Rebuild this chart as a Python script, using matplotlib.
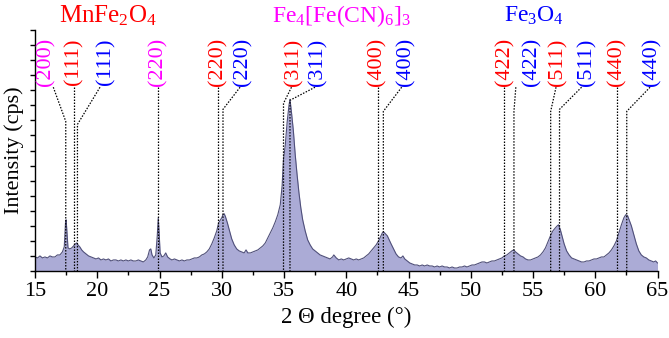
import numpy as np
import matplotlib.pyplot as plt
from matplotlib.transforms import blended_transform_factory

plt.rcParams["font.family"] = ["Liberation Serif", "DejaVu Serif"]
plt.rcParams["mathtext.fontset"] = "custom"
plt.rcParams["mathtext.rm"] = "Liberation Serif"
plt.rcParams["mathtext.it"] = "Liberation Serif:italic"

# XRD pattern (intensity in arbitrary units)
two_theta = [
    15.0, 15.2, 15.4, 15.6, 15.8, 16.0, 16.2, 16.4, 16.6, 16.8, 17.0, 17.2,
    17.35, 17.45, 17.5, 17.56, 17.65, 17.8, 17.95, 18.1, 18.25, 18.35, 18.45,
    18.6, 18.75, 18.9, 19.1, 19.3, 19.5, 19.7, 19.9, 20.1, 20.3, 20.5, 20.7,
    20.9, 21.1, 21.3, 21.5, 21.7, 21.9, 22.1, 22.3, 22.5, 22.7, 22.9, 23.1,
    23.3, 23.5, 23.7, 23.9, 24.05, 24.2, 24.3, 24.4, 24.55, 24.7, 24.82, 24.9,
    24.97, 25.05, 25.2, 25.35, 25.5, 25.65, 25.85, 26.0, 26.2, 26.4, 26.6,
    26.8, 27.0, 27.2, 27.4, 27.6, 27.8, 28.0, 28.2, 28.4, 28.6, 28.8, 29.0,
    29.2, 29.4, 29.6, 29.75, 29.9, 30.0, 30.1, 30.2, 30.3, 30.45, 30.6, 30.8,
    31.0, 31.2, 31.4, 31.6, 31.8, 31.95, 32.1, 32.3, 32.5, 32.7, 32.9, 33.1,
    33.3, 33.5, 33.7, 33.9, 34.1, 34.3, 34.5, 34.7, 34.85, 34.95, 35.1, 35.25,
    35.4, 35.48, 35.6, 35.75, 35.9, 36.05, 36.2, 36.35, 36.5, 36.7, 36.9,
    37.1, 37.3, 37.5, 37.7, 37.9, 38.1, 38.3, 38.5, 38.7, 38.9, 39.0, 39.2,
    39.4, 39.6, 39.8, 40.0, 40.2, 40.4, 40.6, 40.8, 41.0, 41.2, 41.4, 41.6,
    41.8, 42.0, 42.2, 42.4, 42.6, 42.75, 42.9, 43.0, 43.15, 43.3, 43.45, 43.6,
    43.8, 44.0, 44.2, 44.4, 44.55, 44.7, 44.9, 45.1, 45.3, 45.5, 45.7, 45.9,
    46.1, 46.3, 46.5, 46.7, 46.9, 47.1, 47.3, 47.5, 47.7, 47.9, 48.1, 48.3,
    48.5, 48.7, 48.9, 49.1, 49.3, 49.5, 49.7, 49.9, 50.1, 50.3, 50.5, 50.7,
    50.9, 51.1, 51.3, 51.5, 51.7, 51.9, 52.1, 52.3, 52.5, 52.7, 52.9, 53.1,
    53.3, 53.45, 53.6, 53.8, 54.0, 54.2, 54.4, 54.6, 54.8, 55.0, 55.2, 55.4,
    55.6, 55.8, 56.0, 56.2, 56.4, 56.6, 56.8, 56.95, 57.05, 57.2, 57.35, 57.5,
    57.7, 57.9, 58.1, 58.3, 58.5, 58.7, 58.9, 59.1, 59.3, 59.5, 59.7, 59.9,
    60.1, 60.3, 60.5, 60.7, 60.9, 61.1, 61.3, 61.5, 61.7, 61.9, 62.1, 62.3,
    62.45, 62.6, 62.75, 62.9, 63.1, 63.3, 63.5, 63.7, 63.9, 64.1, 64.3, 64.5,
    64.7, 64.85, 65.0,
]
intensity = [
    14, 13, 15, 13, 14, 13, 15, 14, 14, 16, 16, 19,
    24, 48, 51, 40, 23, 22, 23, 25, 27, 28, 26,
    24, 21, 19, 17, 15, 14, 13, 12, 13, 11, 12, 11,
    12, 10, 11, 11, 10, 11, 10, 11, 10, 11, 10, 10,
    11, 10, 9, 11, 14, 21, 22, 16, 13, 16, 35, 53,
    38, 18, 14, 15, 18, 14, 12, 11, 12, 11, 10,
    11, 10, 11, 11, 12, 13, 13, 14, 16, 17, 19, 22,
    27, 33, 40, 48, 51, 53, 56, 57, 54, 48, 41, 32,
    26, 22, 20, 19, 18, 21, 18, 18, 19, 20, 21, 23,
    25, 28, 33, 38, 43, 49, 56, 66, 85, 110, 125, 148,
    165, 171, 158, 140, 116, 96, 78, 63, 51, 40, 31,
    26, 22, 20, 18, 16, 15, 14, 13, 12, 14, 16, 13,
    11, 12, 11, 12, 13, 12, 11, 12, 11, 12, 13, 15,
    17, 20, 23, 26, 30, 34, 38, 39, 37, 35, 31, 27,
    22, 17, 14, 13, 15, 12, 10, 8, 7, 6, 6, 5,
    6, 5, 6, 5, 5, 4, 5, 4, 5, 4, 4, 3,
    4, 3, 3, 4, 4, 5, 4, 5, 6, 6, 7, 8,
    9, 9, 8, 9, 10, 10, 11, 12, 13, 15, 16, 18,
    20, 21, 19, 17, 15, 14, 12, 11, 11, 12, 13, 14,
    16, 19, 23, 29, 35, 40, 43, 45, 46, 41, 34, 27,
    20, 16, 13, 12, 11, 10, 9, 9, 10, 10, 11, 12,
    12, 13, 14, 14, 16, 18, 21, 25, 30, 38, 46, 53,
    56, 55, 50, 45, 36, 27, 20, 16, 14, 13, 11, 10,
    9, 10, 8,
]

# reflection labels: text x, line start x, knee (x, y), phase
hkl_labels = ["(200)", "(111)", "(111)", "(220)", "(220)", "(220)",
              "(311)", "(311)", "(400)", "(400)", "(422)", "(422)",
              "(511)", "(511)", "(440)", "(440)"]
hkl_phase = ["pb", "mn", "fe", "pb", "mn", "fe", "mn", "fe",
             "mn", "fe", "mn", "fe", "mn", "fe", "mn", "fe"]
label_x = [15.91, 18.13, 20.69, 24.85, 29.66, 31.73, 35.80, 37.73,
           42.45, 44.78, 52.72, 54.90, 57.03, 59.31, 61.74, 64.53]
line_top_x = [16.47, 18.15, 20.22, 24.85, 29.73, 31.47, 35.60, 37.49,
              42.52, 44.45, 52.67, 53.62, 56.85, 58.90, 61.77, 64.40]
knee_x = [17.47, 18.15, 18.41, 24.85, 29.73, 30.10, 34.96, 35.48,
          42.52, 42.98, 52.67, 53.47, 56.42, 57.13, 61.77, 62.53]
knee_y = [149, 150, 146, 150, 150, 161, 167, 170,
          150, 159, 150, 159, 159, 161, 150, 159]

phase_colors = {"mn": "#FF0000", "pb": "#FF00FF", "fe": "#0000FF"}

fig = plt.figure(figsize=(6.69, 3.38), dpi=100)
ax = fig.add_axes([35 / 669, 67 / 338, 622.5 / 669, 241 / 338])

ax.fill_between(two_theta, intensity, 0, color="#ABABD6", lw=0)
ax.plot(two_theta, intensity, color="#50507A", lw=0.8)

# dotted guide lines from each label down to the peak
for tx, kx, ky in zip(line_top_x, knee_x, knee_y):
    ax.plot([tx, kx, kx], [183, ky, 0], color="black", lw=0.9,
            ls=(0, (1.2, 1.2)), clip_on=False)

for text, phase, lx in zip(hkl_labels, hkl_phase, label_x):
    ax.text(lx, 208, text, rotation=90, ha="center", va="center",
            fontsize=16, color=phase_colors[phase], clip_on=False)

# phase names above the axes
trans = blended_transform_factory(ax.transData, fig.transFigure)
ax.text(20.9, 1 - 16 / 338, r"MnFe$_2$O$_4$", transform=trans,
        ha="center", va="center", fontsize=18, color=phase_colors["mn"])
ax.text(39.6, 1 - 16 / 338, r"Fe$_4$[Fe(CN)$_6$]$_3$", transform=trans,
        ha="center", va="center", fontsize=17, color=phase_colors["pb"])
ax.text(55.1, 1 - 16 / 338, r"Fe$_3$O$_4$", transform=trans,
        ha="center", va="center", fontsize=17, color=phase_colors["fe"])

ax.set_xlim(15, 65)
ax.set_ylim(0, 240)
ax.set_xticks(np.arange(15, 66, 5))
ax.set_xticks(np.arange(17.5, 65, 5), minor=True)
ax.set_yticks(np.arange(0, 241, 15))
ax.set_yticklabels([])
ax.tick_params(axis="x", which="major", direction="out", length=5,
               width=1, labelsize=16, pad=3)
ax.tick_params(axis="x", which="minor", direction="out", length=3, width=1)
ax.tick_params(axis="y", direction="out", length=3.5, width=1)
for side in ("top", "right"):
    ax.spines[side].set_visible(False)
for side in ("left", "bottom"):
    ax.spines[side].set_linewidth(1.0)

ax.set_xlabel("2 \u0398 degree (\u00b0)", fontsize=16.5, labelpad=4)
ax.set_ylabel("Intensity (cps)", fontsize=16, labelpad=1)

fig.savefig("out.png", dpi=100)
